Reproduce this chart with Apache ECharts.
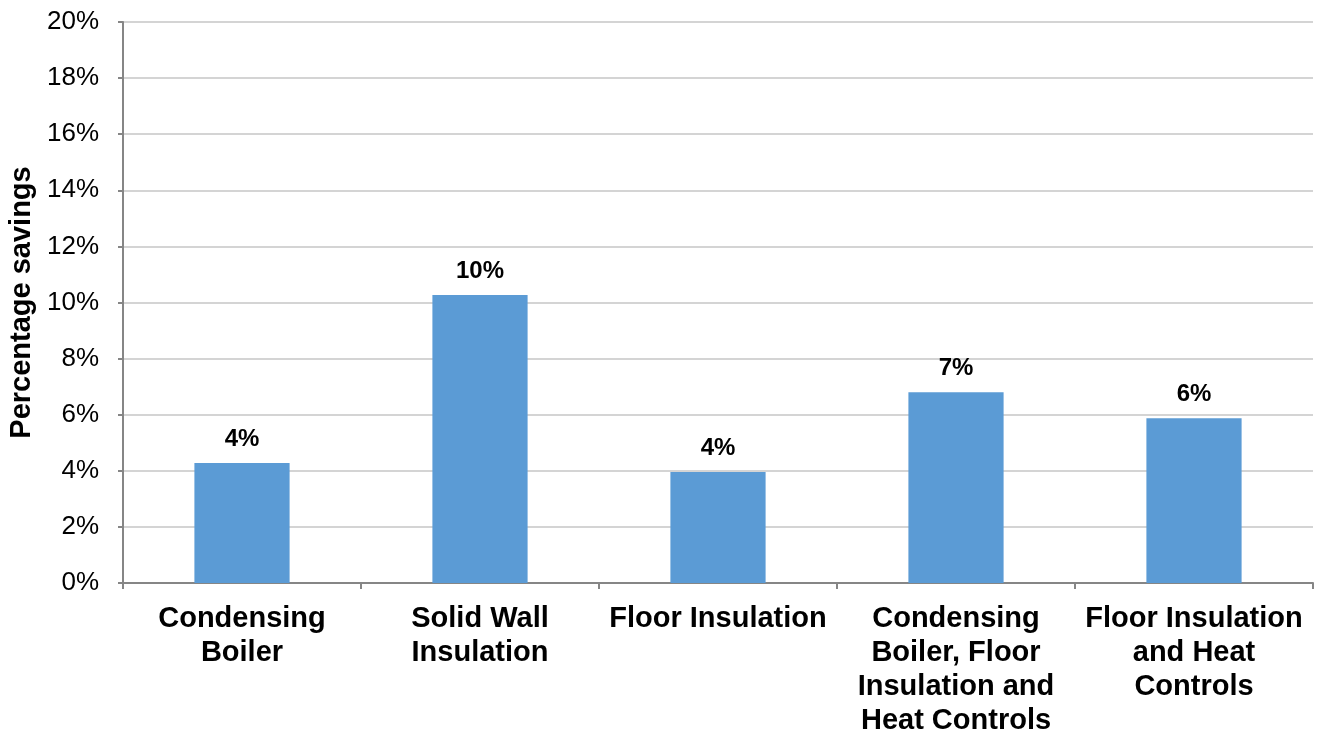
<!DOCTYPE html>
<html>
<head>
<meta charset="utf-8">
<script src="https://cdn.jsdelivr.net/npm/echarts@6/dist/echarts.min.js"></script>
<style>
  html, body { margin: 0; padding: 0; background: #ffffff; overflow: hidden; }
  #chart { width: 1319px; height: 731px; }
</style>
</head>
<body>
<div id="chart"></div>
<script>
// Measures and the share of energy they save
const categories = [
  'Condensing\nBoiler',
  'Solid Wall\nInsulation',
  'Floor Insulation',
  'Condensing\nBoiler, Floor\nInsulation and\nHeat Controls',
  'Floor Insulation\nand Heat\nControls'
];
const savings = [0.0428, 0.1027, 0.0396, 0.0680, 0.0587];

// Y axis range (fractions)
const yMin = 0;
const yMax = 0.20;
const yStep = 0.02;

const pct = v => Math.round(v * 100) + '%';
const font = '"Liberation Sans", Arial, sans-serif';

const chart = echarts.init(document.getElementById('chart'));
chart.setOption({
  animation: false,
  textStyle: { fontFamily: font },
  grid: {
    left: 123, right: 6, top: 22, height: 561,
    containLabel: false,
    outerBoundsMode: 'none'
  },
  xAxis: {
    type: 'category',
    data: categories,
    axisLine: { lineStyle: { color: '#868686', width: 2 } },
    axisTick: { show: true, length: 6, lineStyle: { color: '#868686', width: 2 } },
    axisLabel: {
      interval: 0,
      margin: 19,
      color: '#000000',
      fontFamily: font,
      fontWeight: 'bold',
      fontSize: 29,
      lineHeight: 34
    },
    splitLine: { show: false }
  },
  yAxis: {
    type: 'value',
    min: yMin,
    max: yMax,
    interval: yStep,
    name: 'Percentage savings',
    nameLocation: 'middle',
    nameGap: 82,
    nameTextStyle: { color: '#000000', fontFamily: font, fontWeight: 'bold', fontSize: 29 },
    axisLine: { show: true, lineStyle: { color: '#868686', width: 2 } },
    axisTick: { show: true, length: 5, lineStyle: { color: '#868686', width: 2 } },
    axisLabel: {
      formatter: pct,
      margin: 24,
      color: '#000000',
      fontFamily: font,
      fontSize: 26
    },
    splitLine: { show: true, lineStyle: { color: '#d4d4d4', width: 2 } }
  },
  series: [{
    type: 'bar',
    data: savings,
    barWidth: '40%',
    itemStyle: { color: '#5b9bd5' },
    label: {
      show: true,
      position: 'top',
      distance: 12,
      formatter: p => pct(p.value),
      color: '#000000',
      fontFamily: font,
      fontWeight: 'bold',
      fontSize: 24
    }
  }]
});
</script>
</body>
</html>
